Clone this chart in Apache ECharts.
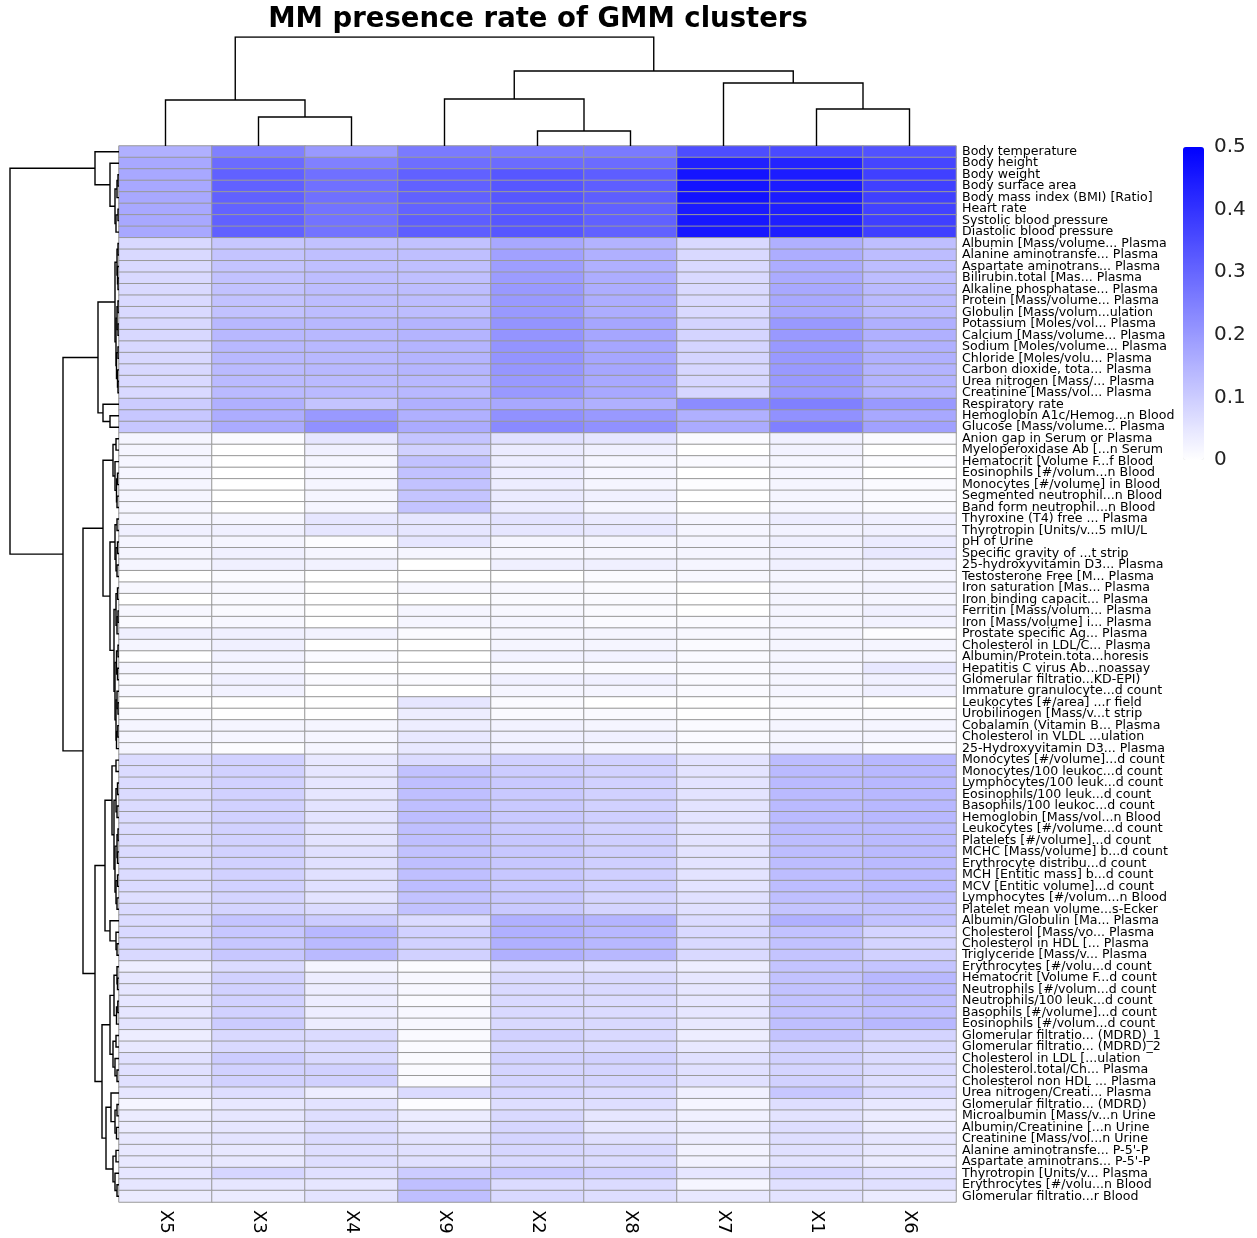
<!DOCTYPE html>
<html><head><meta charset="utf-8">
<script src="https://cdn.jsdelivr.net/npm/echarts/dist/echarts.min.js"></script>
<style>html,body{margin:0;padding:0;background:#fff}#c{width:1257px;height:1238px}</style>
</head><body><div id="c"></div><script>
// ---------------- DATA ----------------
const titleText = 'MM presence rate of GMM clusters';
const columns = ['X5', 'X3', 'X4', 'X9', 'X2', 'X8', 'X7', 'X1', 'X6'];
const colorbarTicks = [0, 0.1, 0.2, 0.3, 0.4, 0.5];

const vitalLabels = ['Body temperature','Body height','Body weight','Body surface area','Body mass index (BMI) [Ratio]','Heart rate','Systolic blood pressure','Diastolic blood pressure'];
const vitalValues = [
 [0.155,0.25,0.20,0.26,0.26,0.26,0.35,0.355,0.34],
 [0.17,0.29,0.25,0.285,0.29,0.29,0.437,0.43,0.365],
 [0.17,0.31,0.28,0.31,0.33,0.315,0.46,0.445,0.375],
 [0.17,0.31,0.28,0.31,0.33,0.315,0.46,0.445,0.375],
 [0.17,0.31,0.28,0.31,0.33,0.315,0.465,0.445,0.375],
 [0.17,0.305,0.275,0.305,0.325,0.31,0.45,0.44,0.37],
 [0.17,0.31,0.275,0.315,0.33,0.31,0.455,0.44,0.375],
 [0.17,0.31,0.275,0.315,0.33,0.31,0.455,0.44,0.375]
];

const chemLabels = ['Albumin [Mass/volume... Plasma','Alanine aminotransfe... Plasma','Aspartate aminotrans... Plasma','Bilirubin.total [Mas... Plasma','Alkaline phosphatase... Plasma','Protein [Mass/volume... Plasma','Globulin [Mass/volum...ulation','Potassium [Moles/vol... Plasma','Calcium [Mass/volume... Plasma','Sodium [Moles/volume... Plasma','Chloride [Moles/volu... Plasma','Carbon dioxide, tota... Plasma','Urea nitrogen [Mass/... Plasma','Creatinine [Mass/vol... Plasma','Respiratory rate','Hemoglobin A1c/Hemog...n Blood','Glucose [Mass/volume... Plasma'];
const chemValues = [
 [0.076,0.11,0.12,0.12,0.17,0.15,0.075,0.155,0.125],
 [0.075,0.115,0.125,0.125,0.185,0.155,0.075,0.16,0.13],
 [0.075,0.115,0.125,0.125,0.19,0.155,0.075,0.16,0.13],
 [0.075,0.12,0.13,0.125,0.195,0.16,0.075,0.165,0.13],
 [0.075,0.12,0.13,0.13,0.2,0.16,0.075,0.17,0.135],
 [0.075,0.12,0.13,0.13,0.2,0.16,0.075,0.17,0.135],
 [0.075,0.12,0.13,0.13,0.2,0.16,0.075,0.17,0.135],
 [0.076,0.14,0.14,0.147,0.21,0.175,0.085,0.2,0.155],
 [0.076,0.14,0.14,0.147,0.21,0.175,0.085,0.2,0.155],
 [0.076,0.14,0.14,0.147,0.21,0.175,0.085,0.2,0.155],
 [0.076,0.14,0.14,0.147,0.21,0.175,0.085,0.2,0.155],
 [0.076,0.135,0.14,0.145,0.205,0.175,0.08,0.2,0.15],
 [0.075,0.135,0.135,0.14,0.2,0.17,0.08,0.2,0.15],
 [0.075,0.135,0.135,0.14,0.2,0.17,0.08,0.2,0.15],
 [0.10,0.155,0.115,0.155,0.17,0.155,0.225,0.25,0.2],
 [0.11,0.16,0.2,0.155,0.215,0.2,0.155,0.215,0.17],
 [0.11,0.165,0.215,0.165,0.23,0.215,0.165,0.25,0.185]
];

const lowLabels = ['Anion gap in Serum or Plasma','Myeloperoxidase Ab [...n Serum','Hematocrit [Volume F...f Blood','Eosinophils [#/volum...n Blood','Monocytes [#/volume] in Blood','Segmented neutrophil...n Blood','Band form neutrophil...n Blood','Thyroxine (T4) free ... Plasma','Thyrotropin [Units/v...5 mIU/L','pH of Urine','Specific gravity of ...t strip','25-hydroxyvitamin D3... Plasma','Testosterone Free [M... Plasma','Iron saturation [Mas... Plasma','Iron binding capacit... Plasma','Ferritin [Mass/volum... Plasma','Iron [Mass/volume] i... Plasma','Prostate specific Ag... Plasma','Cholesterol in LDL/C... Plasma','Albumin/Protein.tota...horesis','Hepatitis C virus Ab...noassay','Glomerular filtratio...KD-EPI)','Immature granulocyte...d count','Leukocytes [#/area] ...r field','Urobilinogen [Mass/v...t strip','Cobalamin (Vitamin B... Plasma','Cholesterol in VLDL ...ulation','25-Hydroxyvitamin D3... Plasma'];
const lowValues = [
 [0.02,0.01,0.05,0.115,0.06,0.05,0.01,0.03,0.01],
 [0.02,0,0.03,0.09,0.04,0.03,0,0.025,0],
 [0.02,0,0.02,0.12,0.035,0.02,0.01,0.02,0.005],
 [0.02,0,0.02,0.12,0.035,0.02,0,0.02,0],
 [0.02,0,0.02,0.12,0.035,0.02,0.005,0.02,0.01],
 [0.02,0,0.02,0.115,0.04,0.03,0,0.02,0.01],
 [0.02,0,0.02,0.115,0.04,0.02,0,0.02,0.01],
 [0.02,0.02,0.05,0.05,0.055,0.04,0.02,0.035,0.03],
 [0.03,0.03,0.05,0.05,0.05,0.045,0.02,0.025,0.03],
 [0.02,0.02,0.005,0.05,0.02,0.02,0.02,0.03,0.04],
 [0.02,0.03,0.02,0.02,0.02,0.02,0.02,0.03,0.045],
 [0.02,0.03,0.025,0,0.03,0.03,0.02,0.03,0.03],
 [0,0.01,0,0,0,0.01,0.015,0.02,0.02],
 [0.015,0.015,0,0.015,0.015,0.01,0,0.02,0.025],
 [0,0.01,0,0,0.01,0.01,0,0.02,0.02],
 [0.015,0.01,0,0.02,0.015,0.01,0,0.02,0.03],
 [0.01,0.015,0,0.02,0.02,0.01,0.01,0.02,0.025],
 [0.03,0.03,0.025,0.01,0.02,0.02,0.015,0.02,0.005],
 [0.02,0.03,0,0,0.02,0.02,0.01,0.02,0.02],
 [0,0.025,0.01,0,0.025,0.025,0.01,0.02,0.02],
 [0.02,0.02,0,0,0.01,0.01,0.01,0.02,0.045],
 [0.01,0.03,0.01,0.01,0.03,0.03,0.01,0.02,0.03],
 [0.015,0.025,0,0,0.02,0.02,0.01,0.02,0.03],
 [0,0,0,0.05,0.01,0,0,0.01,0],
 [0.01,0,0,0.035,0.01,0.01,0,0.01,0.01],
 [0.02,0.02,0.02,0.035,0.025,0.02,0.01,0.02,0.02],
 [0.02,0.02,0.02,0.045,0.03,0.03,0.01,0.02,0.02],
 [0.02,0.005,0.02,0.045,0.03,0.02,0.01,0.025,0.01]
];

const cbcLabels = ['Monocytes [#/volume]...d count','Monocytes/100 leukoc...d count','Lymphocytes/100 leuk...d count','Eosinophils/100 leuk...d count','Basophils/100 leukoc...d count','Hemoglobin [Mass/vol...n Blood','Leukocytes [#/volume...d count','Platelets [#/volume]...d count','MCHC [Mass/volume] b...d count','Erythrocyte distribu...d count','MCH [Entitic mass] b...d count','MCV [Entitic volume]...d count','Lymphocytes [#/volum...n Blood','Platelet mean volume...s-Ecker','Albumin/Globulin [Ma... Plasma','Cholesterol [Mass/vo... Plasma','Cholesterol in HDL [... Plasma','Triglyceride [Mass/v... Plasma'];
const cbcValues = [
 [0.07,0.09,0.045,0.07,0.09,0.09,0.055,0.13,0.14],
 [0.07,0.09,0.05,0.12,0.1,0.09,0.055,0.135,0.14],
 [0.07,0.09,0.05,0.125,0.105,0.09,0.055,0.135,0.14],
 [0.07,0.09,0.05,0.125,0.105,0.09,0.055,0.135,0.14],
 [0.07,0.09,0.055,0.125,0.105,0.09,0.055,0.135,0.14],
 [0.07,0.09,0.055,0.13,0.105,0.095,0.055,0.135,0.14],
 [0.07,0.09,0.055,0.125,0.105,0.09,0.055,0.135,0.135],
 [0.07,0.09,0.055,0.125,0.11,0.095,0.055,0.13,0.135],
 [0.07,0.09,0.06,0.12,0.11,0.095,0.055,0.13,0.135],
 [0.07,0.09,0.06,0.125,0.11,0.095,0.055,0.13,0.135],
 [0.07,0.09,0.06,0.125,0.11,0.095,0.055,0.13,0.135],
 [0.07,0.09,0.06,0.13,0.11,0.095,0.055,0.13,0.135],
 [0.065,0.085,0.055,0.12,0.11,0.085,0.06,0.125,0.13],
 [0.07,0.085,0.07,0.12,0.105,0.085,0.06,0.115,0.12],
 [0.07,0.115,0.1,0.07,0.155,0.147,0.07,0.155,0.12],
 [0.075,0.11,0.14,0.09,0.155,0.14,0.075,0.12,0.085],
 [0.075,0.11,0.135,0.09,0.155,0.14,0.075,0.12,0.085],
 [0.075,0.11,0.135,0.09,0.155,0.14,0.075,0.115,0.09]
];

const restLabels = ['Erythrocytes [#/volu...d count','Hematocrit [Volume F...d count','Neutrophils [#/volum...d count','Neutrophils/100 leuk...d count','Basophils [#/volume]...d count','Eosinophils [#/volum...d count','Glomerular filtratio... (MDRD)_1','Glomerular filtratio... (MDRD)_2','Cholesterol in LDL [...ulation','Cholesterol.total/Ch... Plasma','Cholesterol non HDL ... Plasma','Urea nitrogen/Creati... Plasma','Glomerular filtratio... (MDRD)','Microalbumin [Mass/v...n Urine','Albumin/Creatinine [...n Urine','Creatinine [Mass/vol...n Urine',"Alanine aminotransfe... P-5'-P","Aspartate aminotrans... P-5'-P",'Thyrotropin [Units/v... Plasma','Erythrocytes [#/volu...n Blood','Glomerular filtratio...r Blood'];
const restValues = [
 [0.035,0.07,0.02,0.005,0.06,0.055,0.035,0.115,0.115],
 [0.05,0.09,0.035,0.015,0.075,0.075,0.05,0.12,0.14],
 [0.05,0.09,0.035,0.015,0.075,0.075,0.05,0.12,0.135],
 [0.05,0.09,0.035,0.01,0.075,0.07,0.05,0.12,0.13],
 [0.05,0.09,0.035,0.015,0.075,0.07,0.05,0.12,0.125],
 [0.055,0.1,0.035,0.015,0.075,0.075,0.045,0.125,0.14],
 [0.035,0.075,0.07,0.01,0.09,0.075,0.035,0.115,0.085],
 [0.045,0.075,0.07,0.01,0.08,0.075,0.045,0.09,0.075],
 [0.06,0.1,0.075,0.01,0.09,0.09,0.06,0.09,0.07],
 [0.06,0.09,0.09,0.01,0.085,0.085,0.06,0.085,0.07],
 [0.06,0.09,0.09,0.01,0.085,0.085,0.06,0.09,0.065],
 [0.05,0.065,0.035,0.07,0.08,0.07,0.03,0.11,0.07],
 [0.02,0.045,0.055,0.005,0.065,0.065,0.02,0.065,0.045],
 [0.04,0.05,0.065,0.04,0.075,0.05,0.03,0.055,0.04],
 [0.04,0.05,0.065,0.045,0.08,0.05,0.035,0.065,0.04],
 [0.045,0.055,0.07,0.055,0.085,0.06,0.035,0.065,0.05],
 [0.045,0.045,0.065,0.06,0.08,0.075,0.025,0.06,0.045],
 [0.045,0.045,0.065,0.06,0.075,0.07,0.025,0.055,0.04],
 [0.05,0.08,0.06,0.1,0.105,0.09,0.05,0.08,0.06],
 [0.05,0.05,0.05,0.125,0.07,0.07,0.02,0.06,0.06],
 [0.04,0.04,0.055,0.125,0.075,0.065,0.045,0.055,0.04]
];

// Column dendrogram: [mergeHeight, left, right]; leaves = column index
const colTree = [109, [46, 0, [29, 1, 2]], [75, [47, 3, [15, 4, 5]], [63, 6, [37, 7, 8]]]];

// Row dendrogram: [mergeHeight, left, right]; leaves = row index
const rowTreeA = [24, 0, [9, 1, [4, [2, [1, 2, 3], 4], [3, [1, 5, 6], 7]]]];
const rowTreeB1 = [21,
  [4, [2, [1, 8, 9], [1.5, 10, [1, 11, 12]]], [3, [2, [1, 13, 14], [1, 15, 16]], [2.5, [1, 17, 18], [1.5, 19, [1, 20, 21]]]]],
  [16, 22, [9, 23, 24]]];
const rowTreeB2a = [16,
  [6, [3, 25, 26], [4, 27, [2.5, [1.5, 28, 29], [2, 30, 31]]]],
  [9, [4, [2, 32, 33], [3, [1.5, 34, 35], [2, 36, 37]]],
      [5, [3, [1.5, 38, 39], [2, [1, 40, 41], 42]], [4, [2.5, [1, 43, 44], [1.5, 45, 46]], [3, [2, 47, [1, 48, 49]], [2.5, [1.2, 50, 51], 52]]]]]];
const rowTreeB2b = [24,
  [14, [7, [3, 53, 54], [5, [3, [1.5, 55, 56], [2, 57, 58]], [4, [2, [1, 59, 60], [1.5, 61, 62]], [3, [1.5, 63, 64], [2, 65, 66]]]]],
       [9, 67, [3, 68, [2, 69, 70]]]],
  [17, [9, [5, [2, 71, [1.5, 72, 73]], [2.5, [1.2, 74, 75], 76]], [6, [3, 77, 78], [4, 79, [2, 80, 81]]]],
       [13, [8, 82, [4, [2, 83, 84], [2.5, 85, 86]]], [6, [3, 87, 88], [4, 89, [2, 90, 91]]]]]];
const rowTree = [109, rowTreeA, [56, rowTreeB1, [36, rowTreeB2a, rowTreeB2b]]];

// ---------------- BUILD ----------------
const rowLabels = [].concat(vitalLabels, chemLabels, lowLabels, cbcLabels, restLabels);
const rowValues = [].concat(vitalValues, chemValues, lowValues, cbcValues, restValues);
const heatData = [];
rowValues.forEach((r, ri) => r.forEach((v, ci) => heatData.push([ci, ri, v])));

function layout(node, segs, swap) {
  if (typeof node === 'number') return { pos: node + 0.5, h: 0 };
  const [h, a, b] = node;
  const A = layout(a, segs, swap), B = layout(b, segs, swap);
  let pts = [[A.pos, A.h], [A.pos, h], [B.pos, h], [B.pos, B.h]];
  if (swap) pts = pts.map(p => [p[1], p[0]]);
  segs.push({ coords: pts });
  return { pos: (A.pos + B.pos) / 2, h: h };
}
const colSegs = []; layout(colTree, colSegs, false);
const rowSegs = []; layout(rowTree, rowSegs, true);

const HL = 119, HT = 146, HW = 837, HH = 1056;
const chart = echarts.init(document.getElementById('c'), null, { renderer: 'canvas' });
const font = 'DejaVu Sans';
chart.setOption({
  animation: false,
  backgroundColor: '#fff',
  textStyle: { fontFamily: font },
  title: { text: titleText, left: 533, top: 1, textAlign: 'center',
    textStyle: { fontFamily: font, fontSize: 27.5, fontWeight: 'bold', color: '#000' } },
  grid: [
    { left: HL, top: HT, width: HW, height: HH },
    { left: HL, top: 37, width: HW, height: 109 },
    { left: 10, top: HT, width: 109, height: HH },
    { left: 1183, top: 147, width: 21, height: 313 }
  ],
  xAxis: [
    { gridIndex: 0, type: 'category', data: columns, position: 'bottom',
      axisLine: { show: false }, axisTick: { show: false },
      axisLabel: { rotate: -90, fontSize: 18, color: '#000', margin: 8, fontFamily: font } },
    { gridIndex: 1, type: 'value', min: 0, max: columns.length, show: false },
    { gridIndex: 2, type: 'value', min: 0, max: 109, inverse: true, show: false },
    { gridIndex: 3, type: 'value', min: 0, max: 1, show: false }
  ],
  yAxis: [
    { gridIndex: 0, type: 'category', data: rowLabels, inverse: true, position: 'right',
      axisLine: { show: false }, axisTick: { show: false },
      axisLabel: { interval: 0, fontSize: 12.6, lineHeight: 11, color: '#000', margin: 6,
        padding: [2, 0, 0, 0], fontFamily: font } },
    { gridIndex: 1, type: 'value', min: 0, max: 109, show: false },
    { gridIndex: 2, type: 'value', min: 0, max: rowLabels.length, inverse: true, show: false },
    { gridIndex: 3, type: 'value', min: 0, max: 0.5, interval: 0.1, position: 'right',
      axisLine: { show: false }, axisTick: { show: false }, splitLine: { show: false },
      axisLabel: { fontSize: 20, color: '#222', margin: 10, fontFamily: font,
        formatter: v => { const t = colorbarTicks.find(x => Math.abs(x - v) < 1e-6); return t === undefined ? '' : String(t); } } }
  ],
  visualMap: {
    type: 'continuous', min: 0, max: 0.5, seriesIndex: 0, calculable: false,
    inRange: { color: ['#ffffff', '#0000ff'] },
    left: 1183, top: 147, itemWidth: 21, itemHeight: 313, padding: 0, text: null,
    textStyle: { color: 'transparent' }, hoverLink: false
  },
  series: [
    { type: 'heatmap', xAxisIndex: 0, yAxisIndex: 0, data: heatData,
      itemStyle: { borderColor: '#999999', borderWidth: 1 },
      emphasis: { disabled: true }, silent: true },
    { type: 'lines', coordinateSystem: 'cartesian2d', xAxisIndex: 1, yAxisIndex: 1, polyline: true,
      data: colSegs, lineStyle: { color: '#000', width: 1.4, opacity: 1 }, silent: true },
    { type: 'lines', coordinateSystem: 'cartesian2d', xAxisIndex: 2, yAxisIndex: 2, polyline: true,
      data: rowSegs, lineStyle: { color: '#000', width: 1.4, opacity: 1 }, silent: true },
    { type: 'scatter', xAxisIndex: 3, yAxisIndex: 3, data: [], silent: true }
  ]
});
</script></body></html>
